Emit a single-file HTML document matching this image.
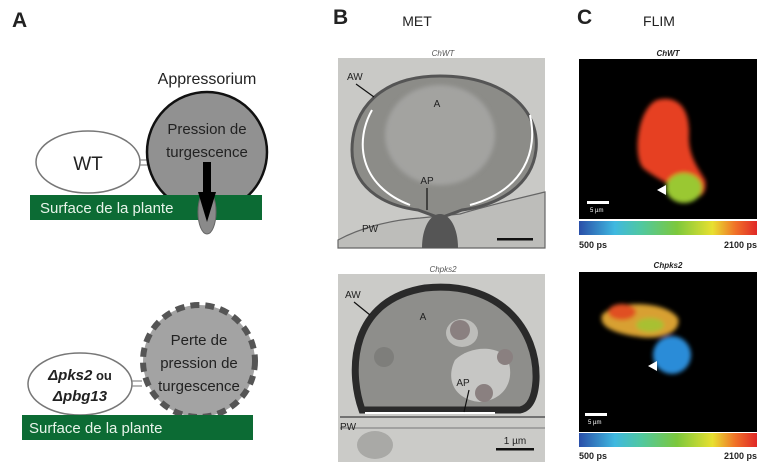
<!DOCTYPE html>
<html><head><meta charset="utf-8"><style>
html,body{margin:0;padding:0;background:#fff}
svg{display:block}
text{font-family:"Liberation Sans",sans-serif}
</style></head><body>
<svg width="768" height="476" viewBox="0 0 768 476" xmlns="http://www.w3.org/2000/svg">
<defs>
<linearGradient id="cb" x1="0" x2="1" y1="0" y2="0">
<stop offset="0" stop-color="#2a4fa8"/><stop offset="0.2" stop-color="#3fb8e0"/><stop offset="0.35" stop-color="#50c8a0"/><stop offset="0.55" stop-color="#7cc83c"/><stop offset="0.75" stop-color="#e8e030"/><stop offset="0.88" stop-color="#f07028"/><stop offset="1" stop-color="#e02828"/>
</linearGradient>
<filter id="bl"><feGaussianBlur stdDeviation="2"/></filter>
</defs>

<!-- Panel A -->
<text x="12" y="27" font-size="21" font-weight="bold" fill="#222">A</text>
<text x="207" y="84" font-size="16" fill="#222" text-anchor="middle">Appressorium</text>
<ellipse cx="88" cy="162" rx="52" ry="31" fill="#fff" stroke="#777" stroke-width="1.5"/>
<line x1="140" y1="160" x2="150" y2="160" stroke="#888" stroke-width="1.2"/>
<line x1="140" y1="165" x2="150" y2="165" stroke="#888" stroke-width="1.2"/>
<circle cx="207" cy="152" r="60" fill="#919191" stroke="#111" stroke-width="2.5"/>
<rect x="30" y="195" width="232" height="25" fill="#0c6b34"/>
<ellipse cx="207" cy="212" rx="9" ry="22" fill="#8a8a8a" stroke="#666"/>
<rect x="203" y="162" width="8" height="32" fill="#000"/>
<polygon points="198,192 216,192 207,222" fill="#000"/>
<text x="207" y="134" font-size="15" fill="#222" text-anchor="middle">Pression de</text>
<text x="207" y="157" font-size="15" fill="#222" text-anchor="middle">turgescence</text>
<text x="40" y="213" font-size="15" fill="#e8f4ea">Surface de la plante</text>
<text x="88" y="170" font-size="19" fill="#222" text-anchor="middle">WT</text>

<ellipse cx="80" cy="384" rx="52" ry="31" fill="#fff" stroke="#777" stroke-width="1.5"/>
<line x1="132" y1="381" x2="142" y2="381" stroke="#888" stroke-width="1.2"/>
<line x1="132" y1="386" x2="142" y2="386" stroke="#888" stroke-width="1.2"/>
<circle cx="199" cy="361" r="56" fill="#a3a3a3" stroke="#555" stroke-width="6" stroke-dasharray="9,6"/>
<rect x="22" y="415" width="231" height="25" fill="#0c6b34"/>
<text x="199" y="345" font-size="15" fill="#222" text-anchor="middle">Perte de</text>
<text x="199" y="368" font-size="15" fill="#222" text-anchor="middle">pression de</text>
<text x="199" y="391" font-size="15" fill="#222" text-anchor="middle">turgescence</text>
<text x="80" y="380" font-size="15" fill="#222" text-anchor="middle"><tspan font-style="italic" font-weight="bold">Δpks2</tspan><tspan font-weight="bold" font-size="13"> ou</tspan></text>
<text x="80" y="401" font-size="15" fill="#222" text-anchor="middle" font-style="italic" font-weight="bold">Δpbg13</text>
<text x="29" y="433" font-size="15" fill="#e8f4ea">Surface de la plante</text>

<!-- Panel B -->
<text x="333" y="24" font-size="21" font-weight="bold" fill="#222">B</text>
<text x="417" y="26" font-size="14" fill="#222" text-anchor="middle">MET</text>
<text x="443" y="56" font-size="8" fill="#555" text-anchor="middle" font-style="italic">ChWT</text>
<rect x="338" y="58" width="207" height="190" fill="#c9c9c6"/>
<path d="M338,240 C360,228 390,220 420,218 L460,214 C490,205 520,198 545,192 L545,248 L338,248 Z" fill="#bdbdba" stroke="#666" stroke-width="1.2"/>
<path d="M440,76 C505,76 540,110 536,150 C532,185 500,205 462,210 L440,218 L418,210 C380,205 352,185 352,150 C352,110 380,76 440,76 Z" fill="#8c8c88" stroke="#555" stroke-width="3"/>
<ellipse cx="440" cy="135" rx="55" ry="50" fill="#a3a3a0" filter="url(#bl)"/>
<path d="M372,110 C355,140 358,185 410,205" stroke="#fff" stroke-width="2" fill="none"/>
<path d="M530,115 C538,150 525,190 470,205" stroke="#fff" stroke-width="2" fill="none"/>
<path d="M422,248 C422,228 430,214 440,214 C450,214 458,228 458,248 Z" fill="#555"/>
<rect x="497" y="238" width="36" height="2.5" fill="#111"/>
<text x="347" y="80" font-size="10" fill="#222">AW</text>
<line x1="356" y1="84" x2="374" y2="97" stroke="#111" stroke-width="1.2"/>
<text x="437" y="107" font-size="10" fill="#222" text-anchor="middle">A</text>
<text x="427" y="184" font-size="10" fill="#222" text-anchor="middle">AP</text>
<line x1="427" y1="188" x2="427" y2="210" stroke="#111" stroke-width="1.2"/>
<text x="362" y="232" font-size="10" fill="#222">PW</text>

<text x="443" y="272" font-size="8" fill="#555" text-anchor="middle" font-style="italic">Chpks2</text>
<rect x="338" y="274" width="207" height="188" fill="#cbcbc8"/>
<path d="M362,410 C348,370 350,300 425,288 C500,280 538,330 536,380 C535,398 530,408 520,410 Z" fill="#8e8e8b" stroke="#2a2a2a" stroke-width="7"/>
<path d="M455,360 C470,345 500,345 508,360 C515,380 505,400 480,402 C455,400 445,380 455,360Z" fill="#c6c6c4"/>
<ellipse cx="462" cy="333" rx="16" ry="14" fill="#bdbdba"/>
<circle cx="460" cy="330" r="10" fill="#8a8080"/>
<circle cx="484" cy="393" r="9" fill="#8a8080"/>
<circle cx="505" cy="357" r="8" fill="#8a8080"/>
<ellipse cx="384" cy="357" rx="10" ry="10" fill="#7e7e7b"/>
<line x1="340" y1="417" x2="545" y2="417" stroke="#555" stroke-width="1.5"/>
<line x1="365" y1="413" x2="495" y2="413" stroke="#fff" stroke-width="2"/>
<line x1="340" y1="428" x2="545" y2="428" stroke="#777" stroke-width="1"/>
<ellipse cx="375" cy="445" rx="18" ry="14" fill="#a9a9a6"/>
<rect x="496" y="448" width="38" height="2.5" fill="#111"/>
<text x="515" y="444" font-size="10" fill="#222" text-anchor="middle">1 µm</text>
<text x="345" y="298" font-size="10" fill="#222">AW</text>
<line x1="354" y1="302" x2="370" y2="315" stroke="#111" stroke-width="1.2"/>
<text x="423" y="320" font-size="10" fill="#222" text-anchor="middle">A</text>
<text x="463" y="386" font-size="10" fill="#222" text-anchor="middle">AP</text>
<line x1="469" y1="390" x2="464" y2="412" stroke="#111" stroke-width="1.2"/>
<text x="340" y="430" font-size="10" fill="#222">PW</text>

<!-- Panel C -->
<text x="577" y="24" font-size="21" font-weight="bold" fill="#222">C</text>
<text x="659" y="26" font-size="14" fill="#222" text-anchor="middle">FLIM</text>
<text x="668" y="56" font-size="8" font-weight="bold" font-style="italic" fill="#222" text-anchor="middle">ChWT</text>
<rect x="579" y="59" width="178" height="160" fill="#000"/>
<g filter="url(#bl)">
<path d="M657,100 C675,95 690,105 689,135 C688,155 698,168 705,180 C708,195 698,200 688,196 C672,185 655,178 643,168 C632,155 638,108 657,100Z" fill="#e64020"/>
<ellipse cx="684" cy="188" rx="18" ry="15" fill="#9ac830"/>
</g>
<polygon points="657,190 666,185 666,195" fill="#fff"/>
<rect x="587" y="201" width="22" height="3" fill="#fff"/>
<text x="590" y="212" font-size="6" fill="#fff">5 µm</text>
<rect x="579" y="221" width="178" height="14" fill="url(#cb)"/>
<text x="579" y="248" font-size="9" font-weight="bold" fill="#222">500 ps</text>
<text x="757" y="248" font-size="9" font-weight="bold" fill="#222" text-anchor="end">2100 ps</text>

<text x="668" y="268" font-size="8" font-weight="bold" font-style="italic" fill="#222" text-anchor="middle">Chpks2</text>
<rect x="579" y="272" width="178" height="160" fill="#000"/>
<g filter="url(#bl)">
<path d="M602,315 C615,300 665,300 678,318 C682,332 662,340 640,337 C618,334 598,328 602,315Z" fill="#d8a030"/>
<ellipse cx="622" cy="312" rx="14" ry="8" fill="#e05020"/>
<ellipse cx="650" cy="325" rx="14" ry="7" fill="#a8c030"/>
<ellipse cx="672" cy="355" rx="19" ry="19" fill="#2c8cd8"/>
</g>
<polygon points="648,366 657,361 657,371" fill="#fff"/>
<rect x="585" y="413" width="22" height="3" fill="#fff"/>
<text x="588" y="424" font-size="6" fill="#fff">5 µm</text>
<rect x="579" y="433" width="178" height="14" fill="url(#cb)"/>
<text x="579" y="459" font-size="9" font-weight="bold" fill="#222">500 ps</text>
<text x="757" y="459" font-size="9" font-weight="bold" fill="#222" text-anchor="end">2100 ps</text>
</svg>
</body></html>
